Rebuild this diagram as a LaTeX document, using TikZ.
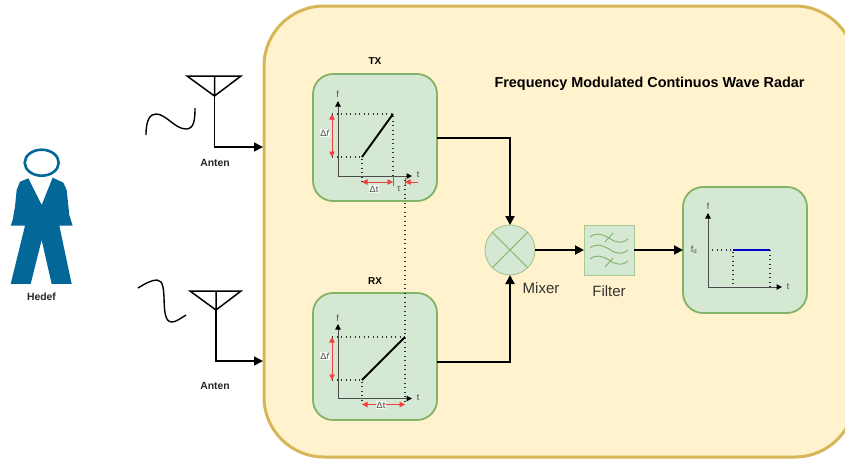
\documentclass[tikz,border=0pt]{standalone}
\usepackage{fontspec}
\setmainfont{Liberation Sans}
\usetikzlibrary{arrows.meta,shapes.geometric}
\definecolor{yfill}{HTML}{FFF2CC}
\definecolor{ystroke}{HTML}{D6B656}
\definecolor{gfill}{HTML}{D5E8D4}
\definecolor{gstroke}{HTML}{82B366}
\definecolor{person}{HTML}{036897}
\definecolor{lab}{HTML}{333333}
\definecolor{redarr}{HTML}{F04040}
\tikzset{
  x=1pt,y=-1pt,
  every node/.style={inner sep=0pt,outer sep=0pt,text=black},
  plotbox/.style={draw=gstroke,fill=gfill,line width=1.8pt,rounded corners=20pt,minimum width=124pt,minimum height=127pt},
  wire/.style={line width=1.9pt,-{Triangle[length=9pt,width=9pt]}},
  ant/.style={line width=1.5pt,line join=miter},
  axis/.style={draw=black!70,line width=1pt,-{Triangle[length=5.5pt,width=5.5pt,color=black]}},
  chirp/.style={line width=1.9pt,black},
  guide/.style={black!80,line width=1.2pt,dash pattern=on 1.3pt off 3.2pt},
  redline/.style={redarr,line width=.9pt,{Triangle[length=5.5pt,width=5.5pt]}-{Triangle[length=5.5pt,width=5.5pt]}},
  small/.style={font=\fontsize{9}{10}\selectfont,text=black!70},
  lablbg/.style={small,fill=white,fill opacity=.75,text opacity=1,inner sep=.5pt},
  boldlab/.style={font=\fontsize{10}{12}\selectfont\bfseries},
  thinbold/.style={font=\fontsize{10.4}{12}\selectfont\bfseries,text=black!85},
  big/.style={font=\fontsize{15}{17}\selectfont,text=lab},
  wavy/.style={gstroke,line width=.9pt}
}
\begin{document}
\begin{tikzpicture}
\useasboundingbox (0,0) rectangle (845,459);
\node[draw=ystroke,fill=yfill,line width=3pt,rounded corners=60pt,minimum width=591pt,minimum height=451pt] (radar) at (559.5,231.5) {};
% person
\node[draw=person,line width=2.6pt,ellipse,minimum width=34pt,minimum height=26pt] (head) at (41.7,162.7) {};
\begin{scope}[x=.3333pt,y=-.3333pt,yshift=-140pt]
\fill[person] (85,115) -- (60,125) -- (50,150) -- (45,200) -- (38,240) -- (32,257) -- (75,257) -- (32,432) -- (92,432) -- (125,300) -- (155,432) -- (215,432) -- (178,257) -- (218,257) -- (208,225) -- (200,150) -- (190,128) -- (158,113) -- (125,195) -- cycle;
\end{scope}
\node[thinbold] (hedef) at (41.5,297) {Hedef};
% antennas
\coordinate (a1l) at (187,76); \coordinate (a1r) at (241,76); \coordinate (a1a) at (214.5,96); \coordinate (a1t) at (214.5,76);
\coordinate (a1c) at (263,147);
\draw[ant] (a1l) -- (a1r) -- (a1a) -- cycle (a1t) -- (a1a);
\draw[wire,line width=1.5pt] (a1a) |- (a1c);
\coordinate (a2l) at (190,291); \coordinate (a2r) at (241,291); \coordinate (a2a) at (216,310); \coordinate (a2t) at (216,291);
\coordinate (a2c) at (263,361);
\draw[ant] (a2l) -- (a2r) -- (a2a) -- cycle (a2t) -- (a2a);
\draw[wire,line width=1.5pt] (a2a) |- (a2c);
\node[thinbold] (ant1) at (215,163) {Anten};
\node[thinbold] (ant2) at (215,386) {Anten};
% waves
\draw[line width=1.4pt] (146,135) .. controls (146,120) and (150,114) .. (156,114) .. controls (166,114) and (175,129) .. (186,129) .. controls (194,129) and (195,120) .. (195,108);
\draw[line width=1.4pt] (138,288) .. controls (146,283) and (152,280) .. (157,280) .. controls (170,280) and (158,322) .. (172,322) .. controls (176,322) and (181,318) .. (186,315);
% boxes
\node[plotbox] (tx) at (375,137.5) {};
\node[plotbox] (rx) at (375,356.5) {};
\node[plotbox,minimum height=126pt] (res) at (745,250) {};
\node[boldlab] (txl) at (375,61) {TX};
\node[boldlab] (rxl) at (375,281) {RX};
\node[font=\fontsize{14.4}{16}\selectfont\bfseries] (title) at (649.5,84) {Frequency Modulated Continuos Wave Radar};
% mixer
\node[circle,draw=gstroke!70,fill=gfill,line width=1pt,minimum size=50pt] (mix) at (510,250) {};
\draw[gstroke,line width=1pt] (mix.45) -- (mix.225) (mix.135) -- (mix.315);
\node[big] (mixl) at (541,288) {Mixer};
% filter
\node[draw=gstroke!70,fill=gfill,line width=1pt,minimum size=50pt] (filt) at (609,250) {};
\foreach \dy in {-11,0,11}{
  \draw[wavy] (590,248+\dy) .. controls (596,243+\dy) and (602,245+\dy) .. (609,249+\dy) .. controls (616,254+\dy) and (622,255+\dy) .. (628,250+\dy);
}
\draw[wavy] (605,242) -- (613,233) (605,267) -- (613,258);
\node[big] (filtl) at (609,291) {Filter};
% connections
\draw[wire] (tx.east |- 0,138) -| (mix.north);
\draw[wire] (rx.east |- 0,362) -| (mix.south);
\draw[wire] (mix.east) -- (filt.west);
\draw[wire] (filt.east) -- (res.west |- filt.east);
% TX plot
\coordinate (to) at (338,176);
\draw[guide] (332,114) -- (393,114) -- (393,178);
\draw[guide] (332,157) -- (362,157) -- (362,182);
\draw[axis] (338,176) -- (338,101);
\draw[axis] (338,176) -- (412,176);
\draw[chirp] (362,157) -- (393,114);
\draw[redline] (332,114) -- (332,157);
\draw[redline] (362,182) -- (393,182);
\draw[redarr,line width=.9pt,-{Triangle[length=5.5pt,width=5.5pt]}] (418,182) -- (405,182);
\draw[redarr,line width=.9pt] (393,176) -- (393,186) (405,178) -- (405,186);
\node[lablbg] (t1) at (325,133) {Δ\textit{f}};
\node[small] at (337.5,94) {f};
\node[small] at (418,175) {t};
\node[lablbg] (t2) at (374,189) {Δt};
\node[small] (tau) at (399,189) {τ};
% RX plot
\draw[guide] (332,337) -- (405,337);
\draw[guide] (332,380) -- (362,380) -- (362,404);
\draw[guide] (405,180) -- (405,404);
\draw[axis] (338,398.5) -- (338,324);
\draw[axis] (338,398.5) -- (412,398.5);
\draw[chirp] (362,380) -- (405,337);
\draw[redline] (332,337) -- (332,380);
\draw[redline] (362,404.5) -- (405,404.5);
\node[lablbg] at (325,356) {Δ\textit{f}};
\node[lablbg,inner sep=1pt] at (381,405) {Δt};
\node[small] at (337.5,318) {f};
\node[small] at (418,398) {t};
% result plot
\draw[guide] (712,250) -- (733,250) -- (733,287);
\draw[guide] (770,250) -- (770,287);
\draw[axis] (708,287) -- (708,213);
\draw[axis] (708,287) -- (782,287);
\draw[line width=1.9pt,blue!80!black] (733,250) -- (770,250);
\node[small] at (708,206) {f};
\node[small] at (788,287) {t};
\node[small] at (694,250) {f\textsubscript{d}};
\end{tikzpicture}
\end{document}
